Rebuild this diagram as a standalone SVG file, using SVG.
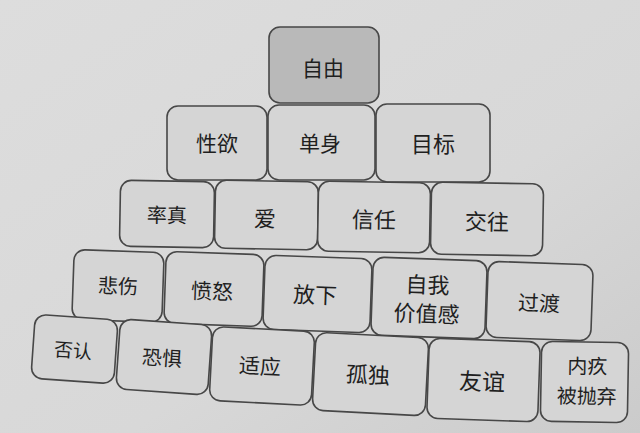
<svg xmlns="http://www.w3.org/2000/svg" width="640" height="433" viewBox="0 0 640 433">
<defs>
<linearGradient id="bg" x1="0" y1="0" x2="1" y2="1">
<stop offset="0" stop-color="#dddddd"/>
<stop offset="0.6" stop-color="#d8d8d8"/>
<stop offset="1" stop-color="#cbcbcb"/>
</linearGradient>
</defs>
<style>
.box{fill:#d5d5d5;stroke:#474747;stroke-width:1.6}
.top{fill:#b9b9b9}
text{font-family:"Noto Sans CJK SC","Noto Sans CJK TC",sans-serif;font-size:21px;fill:#1f1f1f;text-anchor:middle;dominant-baseline:central}
.a{font-size:19px}
.b{font-size:20px}
.c{font-size:22px}
.d{font-size:23px}
</style>
<rect width="640" height="433" fill="url(#bg)"/>
<g id="connectors"/>
<g id="n-ziyou"><rect class="box top" x="269" y="27" width="110" height="76" rx="11"/><text x="323" y="67">自由</text></g>
<g id="n-xingyu"><rect class="box" x="167" y="106" width="100" height="74" rx="11"/><text x="217" y="142">性欲</text></g>
<g id="n-danshen"><rect class="box" x="268" y="105" width="107" height="75" rx="11"/><text x="320" y="142">单身</text></g>
<g id="n-mubiao"><rect class="box" x="376" y="104" width="114" height="78" rx="11"/><text class="c" x="433" y="142">目标</text></g>
<g id="n-shuaizhen" transform="rotate(1 167 214)"><rect class="box" x="120" y="181" width="94" height="66" rx="11"/><text class="b" x="167" y="214">率真</text></g>
<g id="n-ai" transform="rotate(1 266 215)"><rect class="box" x="215" y="181" width="103" height="68" rx="11"/><text class="c" x="265" y="217">爱</text></g>
<g id="n-xinren" transform="rotate(1 374 217)"><rect class="box" x="318" y="182" width="112" height="70" rx="11"/><text class="c" x="374" y="218">信任</text></g>
<g id="n-jiaowang" transform="rotate(1 487 219)"><rect class="box" x="431" y="183" width="112" height="72" rx="11"/><text class="c" x="487" y="220">交往</text></g>
<g id="n-beishang" transform="rotate(2 118 286)"><rect class="box" x="73" y="251" width="90" height="70" rx="11"/><text class="b" x="118" y="285">悲伤</text></g>
<g id="n-fennu" transform="rotate(2 214 289)"><rect class="box" x="165" y="253" width="98" height="72" rx="11"/><text x="212" y="290">愤怒</text></g>
<g id="n-fangxia" transform="rotate(2 317 294)"><rect class="box" x="264" y="257" width="107" height="74" rx="11"/><text class="c" x="315" y="293">放下</text></g>
<g id="n-ziwo" transform="rotate(2 429 298)"><rect class="box" x="372" y="259" width="114" height="78" rx="11"/><text class="c" x="427" y="283">自我</text><text class="c" x="427" y="312">价值感</text></g>
<g id="n-guodu" transform="rotate(2 539 301)"><rect class="box" x="487" y="263" width="105" height="76" rx="11"/><text x="539" y="302">过渡</text></g>
<g id="n-fouren" transform="rotate(4 74 349)"><rect class="box" x="33" y="317" width="83" height="64" rx="11"/><text class="a" x="73" y="349">否认</text></g>
<g id="n-kongju" transform="rotate(4 164 357)"><rect class="box" x="118" y="322" width="92" height="70" rx="11"/><text class="b" x="162" y="357">恐惧</text></g>
<g id="n-shiying" transform="rotate(3 262 366)"><rect class="box" x="211" y="329" width="102" height="74" rx="11"/><text x="260" y="365">适应</text></g>
<g id="n-gudu" transform="rotate(3 370 374)"><rect class="box" x="314" y="335" width="113" height="78" rx="11"/><text class="c" x="368" y="373">孤独</text></g>
<g id="n-youyi" transform="rotate(2 483 380)"><rect class="box" x="428" y="340" width="111" height="80" rx="11"/><text class="d" x="482" y="380">友谊</text></g>
<g id="n-neijiu" transform="rotate(1 585 382)"><rect class="box" x="541" y="342" width="87" height="80" rx="11"/><text class="b" x="587" y="365">内疚</text><text class="b" x="587" y="395">被抛弃</text></g>
</svg>
